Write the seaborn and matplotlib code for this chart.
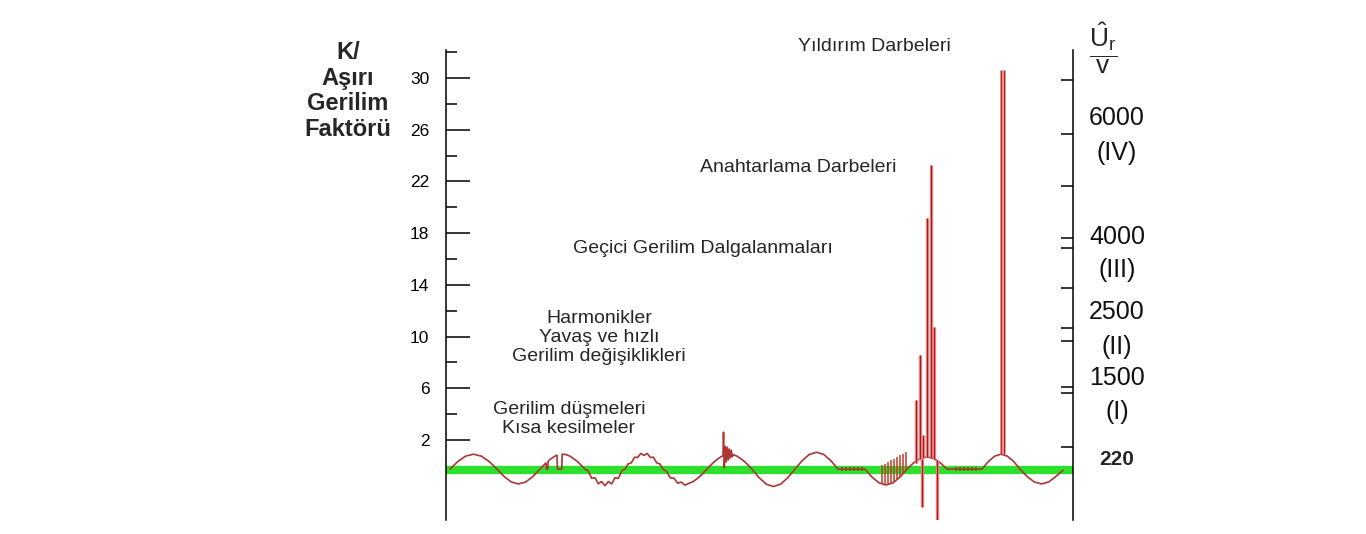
import numpy as np
import pandas as pd
import matplotlib
matplotlib.use("Agg")
import matplotlib.pyplot as plt
import seaborn as sns

# waveform (time in arbitrary units, value on K scale)
wave_t = [4, 11.8, 19.7, 27.5, 35.3, 43.2, 51,
          58.2, 65.3, 72.5, 79.7, 86.8, 94,
          98, 100, 100.4, 101.8, 102.2, 105, 109, 111, 111.4, 115.8, 116.2, 120, 124, 131.5, 139,
          142.3, 145.7, 149, 152.3, 155.7, 159, 162.3, 165.7, 169, 172.3, 175.7, 179,
          182.2, 185.3, 188.5, 191.7, 194.8, 198, 201.2, 204.3, 207.5, 210.7, 213.8, 217,
          220.7, 224.3, 228, 231.7, 235.3, 239, 242.7, 246.3, 250, 253.7, 257.3, 261,
          264.75, 268.5, 272.25, 276, 277, 277.5, 278.3, 279.3, 280.3, 281.3, 282.3, 283.3,
          284.3, 285.3, 286.3, 287.25, 291, 294.75, 298.5, 302.25, 306,
          313.2, 320.3, 327.5, 334.7, 341.8, 349,
          356.2, 363.3, 370.5, 377.7, 384.8, 392,
          419,
          426, 433, 440, 447, 454, 461,
          467.7, 474.3, 481, 487.7, 494.3, 501,
          536,
          542.3, 548.7, 555, 561.3, 567.7, 574,
          581.2, 588.3, 595.5, 602.7, 609.8, 617]
wave_k = [-0.25, 0.33, 0.75, 0.90, 0.75, 0.33, -0.25,
          -0.83, -1.25, -1.40, -1.25, -0.83, -0.25,
          0.07, 0.22, -0.25, -0.25, 0.36, 0.55, 0.75, 0.82, -0.25, -0.25, 0.90, 0.87, 0.75, 0.33, -0.25,
          -0.41, -0.97, -0.92, -1.39, -1.22, -1.54, -1.22, -1.39, -0.92, -0.97, -0.41, -0.25,
          0.15, 0.23, 0.66, 0.65, 0.96, 0.80, 0.96, 0.65, 0.66, 0.23, 0.15, -0.25,
          -0.45, -0.93, -0.96, -1.35, -1.26, -1.50, -1.36, -1.25, -1.06, -0.83, -0.55, -0.25,
          0.05, 0.33, 0.56, 0.75, 0.78, 2.6, -0.15, 1.5, 0.3, 1.45, 0.45, 1.3,
          0.6, 1.2, 0.7, 0.86, 0.75, 0.56, 0.33, 0.05, -0.25,
          -0.92, -1.42, -1.60, -1.42, -0.92, -0.25,
          0.40, 0.88, 1.05, 0.88, 0.40, -0.25,
          -0.25,
          -0.87, -1.32, -1.48, -1.32, -0.87, -0.25,
          0.23, 0.57, 0.70, 0.57, 0.23, -0.25,
          -0.25,
          0.33, 0.75, 0.90, 0.75, 0.33, -0.25,
          -0.83, -1.25, -1.40, -1.25, -0.83, -0.35]

# switching impulses
sw_t = [469.7, 474, 476.7, 480.7, 484.7, 488.3]
sw_base = [0.25, 0.5, 0.6, 0.7, 0.65, 0.55]
sw_top = [5.1, 8.6, 2.4, 19.2, 23.3, 10.7]
neg_t = [476, 490.5]
neg_base = [0.55, 0.45]
neg_bottom = [-3.2, -4.2]

# commutation notches
notch_t = [436, 439, 442, 445, 448, 451, 454, 457, 460]
notch_low = [-1.41, -1.47, -1.47, -1.39, -1.28, -1.10, -0.87, -0.62, -0.33]
notch_high = [0.05, 0.17, 0.30, 0.42, 0.55, 0.68, 0.80, 0.93, 1.05]

# small ripples on flat parts
dash_t = [396, 400, 404, 408, 412, 416, 510, 514, 518, 522, 526, 530]

# lightning impulse
lt_t = [554.7, 558]
lt_base = 0.88
lt_top = 30.6

nominal_k = -0.32

left_major = [2, 6, 10, 14, 18, 22, 26, 30]
left_minor = [4, 8, 12, 16, 20, 24, 28, 32]
right_ticks = [29.84, 25.67, 21.64, 17.62, 16.85, 13.76, 10.66, 9.66, 6.10, 5.63, 1.46]
right_labels = ["6000", "(IV)", "4000", "(III)", "2500", "(II)", "1500", "(I)"]
right_label_k = [26.9, 24.2, 17.7, 15.15, 11.9, 9.2, 6.8, 4.17]

annotations = ["Yıldırım Darbeleri", "Anahtarlama Darbeleri", "Geçici Gerilim Dalgalanmaları",
               "Harmonikler\nYavaş ve hızlı\nGerilim değişiklikleri",
               "Gerilim düşmeleri\nKısa kesilmeler"]
ann_t = [428, 352, 257, 153, 123]
ann_k = [32.4, 23.04, 16.77, 9.89, 3.62]

sns.set_style("white")
plt.rcParams['font.family'] = ['Liberation Sans', 'DejaVu Sans']
plt.rcParams['mathtext.fontset'] = 'custom'
plt.rcParams['mathtext.rm'] = 'Liberation Sans'
plt.rcParams['mathtext.it'] = 'Liberation Sans'

fig = plt.figure(figsize=(13.66, 5.34), dpi=100)
ax = fig.add_axes([446/1366, 14/534, 627/1366, 470/534])

ax.axhline(nominal_k, color='#2ee02e', lw=6, zorder=1)

df = pd.DataFrame({'t': wave_t, 'k': wave_k})
sns.lineplot(data=df, x='t', y='k', sort=False, estimator=None,
             color='#ad3535', lw=1.2, ax=ax, zorder=3)

ax.vlines(notch_t, notch_low, notch_high, color='#c0392b', lw=1.1, zorder=3)
ax.plot(dash_t, [nominal_k + 0.05] * len(dash_t), '|', color='#9a4a1a', ms=3.5, mew=1.3, zorder=3)

for xs, b, tp in [(sw_t, sw_base, sw_top), (neg_t, neg_base, neg_bottom)]:
    ax.vlines(xs, b, tp, color='#f07a7a', lw=2.4, zorder=3)
    ax.vlines(xs, b, tp, color='#9a2020', lw=0.7, zorder=4)
ax.vlines(lt_t, lt_base, lt_top, color='#f06a6a', lw=1.8, zorder=3)
ax.vlines(lt_t, lt_base, lt_top, color='#8a2020', lw=0.6, zorder=4)

ax.set_xlim(0, 627)
ax.set_ylim(-4.19, 32.16)
ax.set_xticks([])
ax.set_xlabel('')
ax.set_ylabel('')
ax.set_yticks(left_major)
ax.set_yticks(left_minor, minor=True)
ax.tick_params(axis='y', which='major', direction='in', length=17, width=1.1,
               labelsize=12.5, pad=12, colors='black')
ax.tick_params(axis='y', which='minor', direction='in', length=8, width=1.1, colors='black')
for s in ['top', 'bottom', 'right']:
    ax.spines[s].set_visible(False)
ax.spines['left'].set_color('black')
ax.spines['left'].set_linewidth(1.1)

ax2 = ax.twinx()
ax2.set_ylim(ax.get_ylim())
ax2.set_yticks(right_ticks)
ax2.tick_params(axis='y', direction='in', length=8.5, width=1.1, labelright=False, colors='black')
for s in ['top', 'bottom', 'left']:
    ax2.spines[s].set_visible(False)
ax2.spines['right'].set_color('black')
ax2.spines['right'].set_linewidth(1.1)

for txt, k in zip(right_labels, right_label_k):
    ax.text(671, k, txt, fontsize=18, ha='center', va='center', color='#111111')
ax.text(671, 0.5, "220", fontsize=15, fontweight='bold', ha='center', va='center')
ax.text(657, 32.3, r'$\dfrac{\hat{U}_\mathrm{r}}{\mathrm{v}}$', fontsize=19, ha='center', va='center')

for txt, t, k in zip(annotations, ann_t, ann_k):
    ax.text(t, k, txt, fontsize=14, ha='center', va='center', linespacing=1.15)

fig.text(348/1366, 1 - 41/534, "K/\nAşırı\nGerilim\nFaktörü", fontsize=17,
         fontweight='bold', ha='center', va='top', linespacing=1.15)

fig.savefig("out.png", dpi=100, facecolor='white')
